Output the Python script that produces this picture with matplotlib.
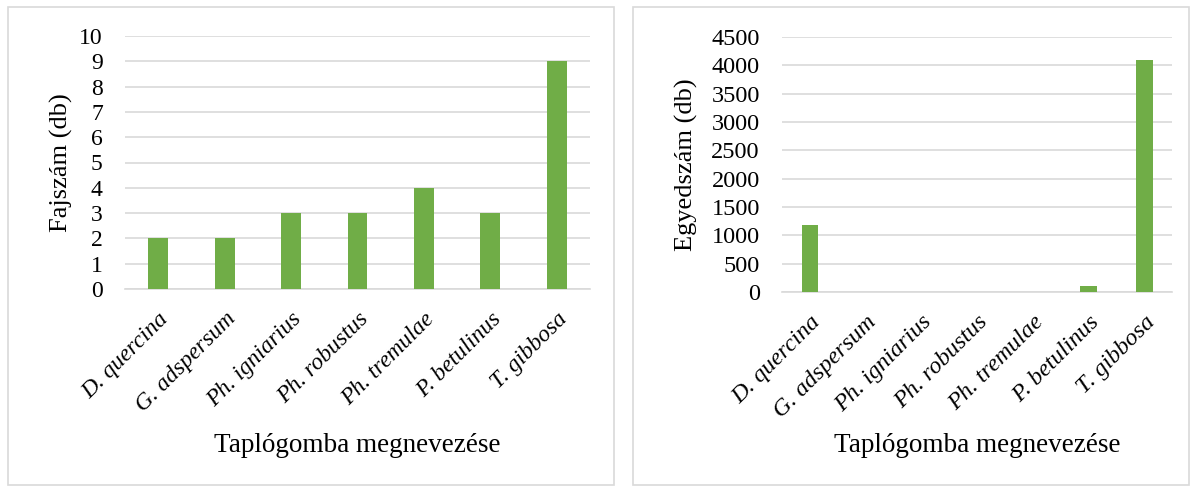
import matplotlib
matplotlib.use("Agg")
import matplotlib.pyplot as plt
from matplotlib.patches import Rectangle
from matplotlib.transforms import ScaledTranslation

categories = ["D. quercina", "G. adspersum", "Ph. igniarius", "Ph. robustus",
              "Ph. tremulae", "P. betulinus", "T. gibbosa"]
species_counts = [2, 2, 3, 3, 4, 3, 9]
individual_counts = [1190, 0, 0, 0, 0, 100, 4100]
left_yticks = list(range(0, 11))
right_yticks = list(range(0, 4501, 500))

plt.rcParams['font.family'] = ['Liberation Serif', 'DejaVu Serif']
W, H = 1194, 487
fig = plt.figure(figsize=(W / 100, H / 100), dpi=100)

GREEN = "#70AD47"
GRID = "#D9D9D9"


def px_axes(x0, y0, x1, y1):
    return fig.add_axes([x0 / W, 1 - y1 / H, (x1 - x0) / W, (y1 - y0) / H])


# panel borders
for (x0, y0, x1, y1) in [(8, 7, 614, 485), (633, 7, 1189, 485)]:
    fig.patches.append(Rectangle((x0 / W, 1 - y1 / H), (x1 - x0) / W, (y1 - y0) / H,
                                 transform=fig.transFigure, fill=False,
                                 edgecolor=GRID, linewidth=1.2))


def style(ax, values, yticks, ylabel, tick_fs):
    x = range(len(categories))
    ax.bar(x, values, width=0.3, color=GREEN, zorder=3)
    ax.set_xlim(-0.5, len(categories) - 0.5)
    ax.set_ylim(yticks[0], yticks[-1])
    ax.set_yticks(yticks)
    ax.set_xticks(list(x))
    ax.set_xticklabels(categories, rotation=45, ha='right', rotation_mode='anchor',
                       fontstyle='italic', fontsize=tick_fs)
    off = ScaledTranslation(-4 / 100, 0, fig.dpi_scale_trans)
    for lab in ax.get_xticklabels():
        lab.set_transform(lab.get_transform() + off)
    ax.tick_params(axis='y', labelsize=tick_fs, length=0, pad=16)
    ax.tick_params(axis='x', length=0, pad=14)
    ax.grid(axis='y', color=GRID, linewidth=1.2, zorder=0)
    for s in ['top', 'right', 'left']:
        ax.spines[s].set_visible(False)
    ax.spines['bottom'].set_color(GRID)
    ax.spines['bottom'].set_linewidth(1.2)
    ax.set_ylabel(ylabel, fontsize=19)
    ax.set_xlabel("Taplógomba megnevezése", fontsize=19.5)


ax1 = px_axes(125, 36, 590, 289)
style(ax1, species_counts, left_yticks, "Fajszám (db)", 17)
ax1.yaxis.set_label_coords((73 - 125) / 465, 0.5)
ax1.xaxis.set_label_coords(0.5, -(433 - 289) / 253)

ax2 = px_axes(782, 37, 1172, 292)
style(ax2, individual_counts, right_yticks, "Egyedszám (db)", 17.5)
ax2.yaxis.set_label_coords((698 - 782) / 390, 0.5)
ax2.xaxis.set_label_coords(0.5, -(433 - 292) / 255)

fig.savefig("out.png", dpi=100)
